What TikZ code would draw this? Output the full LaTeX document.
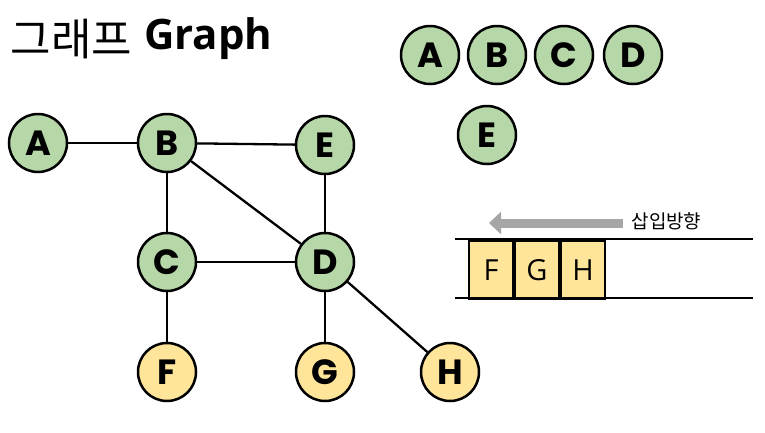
\documentclass[tikz,border=0pt]{standalone}
\usepackage{fontspec}
\setmainfont{Open Sans}
\newfontfamily\kor{Noto Sans CJK KR}
\newfontfamily\vtx{Poppins}
\usetikzlibrary{arrows.meta, calc}

\definecolor{vgreen}{HTML}{B6D7A8}
\definecolor{vyellow}{HTML}{FFE599}
\definecolor{arrowgray}{HTML}{A6A6A6}

\begin{document}
\begin{tikzpicture}[
  x=1pt, y=-1pt,
  vertex/.style={draw, circle, line width=2.5pt, minimum size=58pt, inner sep=0,
    font=\vtx\bfseries\fontsize{35}{35}\selectfont},
  green/.style={vertex, fill=vgreen},
  yellow/.style={vertex, fill=vyellow},
  edge/.style={line width=2.3pt},
  slot/.style={draw, line width=2pt, fill=vyellow, minimum width=44pt, minimum height=58pt,
    inner sep=0, anchor=north west, font=\fontsize{29}{29}\selectfont},
  rail/.style={line width=2pt},
  push/.style={-{Triangle[length=12pt, width=22pt]}, line width=9pt, arrowgray},
  every node/.style={align=center}]

  \useasboundingbox (0,0) rectangle (765,432);

  % Title
  \node[anchor=west, font=\kor\fontsize{44}{44}\selectfont] (title) at (7,39) {그래프};
  \node[anchor=west, font=\bfseries\fontsize{42}{42}\selectfont] (titleen) at ($(title.east)+(5,0)$) {Graph};

  % Graph vertices
  \node[green] (a) at (38,143) {A};
  \node[green] (b) at (167,143) {B};
  \node[green] (e) at (325,145) {E};
  \node[green] (c) at (167,262) {C};
  \node[green] (d) at (325,262) {D};
  \node[yellow] (f) at (167,372) {F};
  \node[yellow] (g) at (325,372) {G};
  \node[yellow] (h) at (450,372) {H};

  % Edges
  \draw[edge] (a) -- (b);
  \draw[edge] (b) -- (e);
  \draw[edge] (b) -- (c);
  \draw[edge] (b) -- (d);
  \draw[edge] (e) -- (d);
  \draw[edge] (c) -- (d);
  \draw[edge] (c) -- (f);
  \draw[edge] (d) -- (g);
  \draw[edge] (d) -- (h);

  % Visited vertices
  \node[green] (va) at (430,55) {A};
  \node[green] (vb) at (497,55) {B};
  \node[green] (vc) at (564,55) {C};
  \node[green] (vd) at (633,55) {D};
  \node[green] (ve) at (487,135) {E};

  % Queue
  \coordinate (qtl) at (455,239);
  \coordinate (qtr) at (753,239);
  \coordinate (qbl) at (455,298);
  \coordinate (qbr) at (753,298);
  \node[slot] (qf) at (468,240) {F};
  \node[slot] (qg) at (qf.north east) {G};
  \node[slot] (qh) at (qg.north east) {H};
  \draw[rail] (qtl) -- (qtr);
  \draw[rail] (qbl) -- (qbr);

  % Insert direction
  \coordinate (pstart) at (623,223);
  \coordinate (pend) at (489,223);
  \draw[push] (pstart) -- (pend);
  \node[anchor=west, font=\kor\fontsize{19}{19}\selectfont] (plabel) at (628,221) {삽입방향};

\end{tikzpicture}
\end{document}
